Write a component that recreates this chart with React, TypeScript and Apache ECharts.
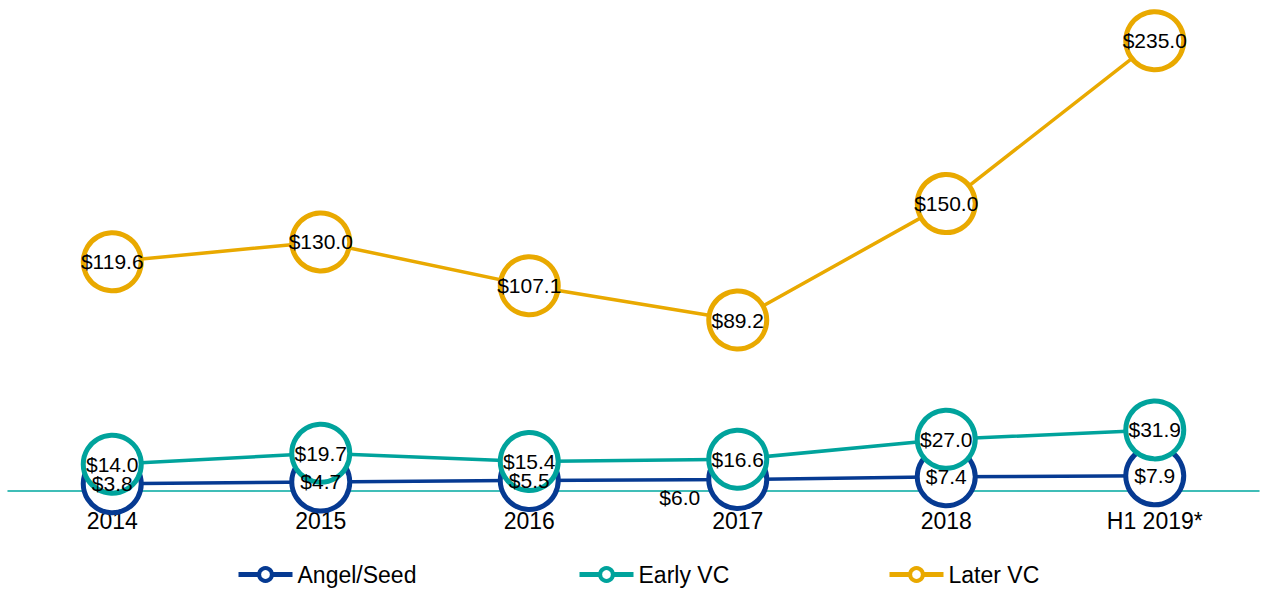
import React, { useEffect, useRef } from "react";
import * as echarts from "echarts";

const categories = ["2014", "2015", "2016", "2017", "2018", "H1 2019*"];
const angelSeed = [3.8, 4.7, 5.5, 6.0, 7.4, 7.9];
const earlyVC = [14.0, 19.7, 15.4, 16.6, 27.0, 31.9];
const laterVC = [119.6, 130.0, 107.1, 89.2, 150.0, 235.0];
const seriesNames = ["Angel/Seed", "Early VC", "Later VC"];

const FONT = "'Liberation Sans', Arial, sans-serif";
const BLUE = "#063a92";
const TEAL = "#00a39c";
const GOLD = "#e9a900";

export default function App() {
  const ref = useRef<HTMLDivElement>(null);
  useEffect(() => {
    document.body.style.margin = "0";
    const chart = echarts.init(ref.current!, null, { renderer: "svg" });
    const mk = (name: string, data: any[], color: string) => ({
      name,
      type: "line",
      data,
      symbol: "circle",
      symbolSize: 58,
      lineStyle: { color, width: 3.5 },
      itemStyle: { color: "#ffffff", borderColor: color, borderWidth: 5 },
      label: {
        show: true,
        position: "inside",
        color: "#000",
        fontSize: 21,
        fontFamily: FONT,
        formatter: (p: any) => "$" + Number(p.value).toFixed(1),
      },
      emphasis: { disabled: true },
    });
    const angelData = angelSeed.map((v, i) =>
      i === 3 ? { value: v, label: { offset: [-58, 18] } } : v
    );
    const legendAt = (name: string, left: number) => ({
      data: [name],
      left,
      top: 563,
      padding: 0,
      itemWidth: 54,
      itemHeight: 16,
      itemGap: 0,
      itemStyle: { borderWidth: 4 },
      lineStyle: { width: 5 },
      textStyle: { color: "#000", fontSize: 23, fontFamily: FONT },
    });
    chart.setOption({
      animation: false,
      grid: { left: 8, right: 7, top: 12, height: 479, containLabel: false },
      legend: [
        legendAt(seriesNames[0], 236),
        legendAt(seriesNames[1], 577),
        legendAt(seriesNames[2], 887),
      ],
      xAxis: {
        type: "category",
        data: categories,
        boundaryGap: true,
        axisLine: { show: true, lineStyle: { color: "#00a8a0", width: 1.5, opacity: 1 } },
        axisTick: { show: false },
        axisLabel: { color: "#000", fontSize: 23, fontFamily: FONT, margin: 18 },
      },
      yAxis: {
        type: "value",
        min: 0,
        max: 250,
        show: false,
        splitLine: { show: false },
      },
      series: [
        mk(seriesNames[0], angelData, BLUE),
        mk(seriesNames[1], earlyVC, TEAL),
        mk(seriesNames[2], laterVC, GOLD),
      ],
    });
    return () => chart.dispose();
  }, []);
  return <div ref={ref} style={{ width: 1266, height: 592 }} />;
}
